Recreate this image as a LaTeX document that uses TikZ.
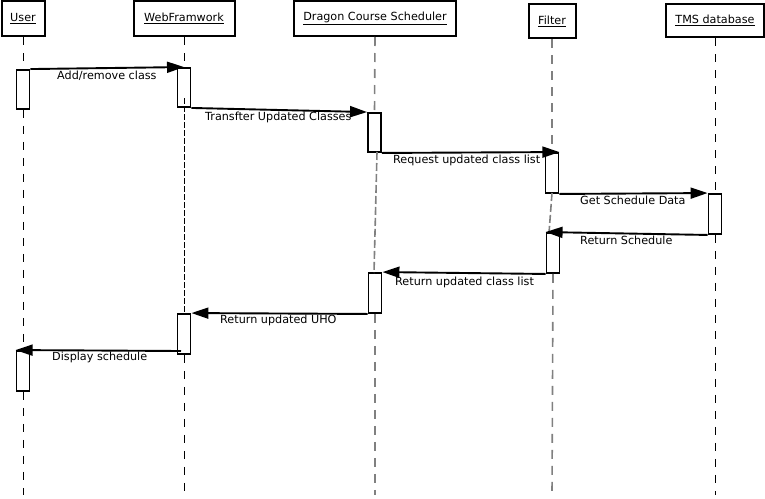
\documentclass[tikz,border=0pt]{standalone}
\usepackage{fontspec}
\setmainfont{DejaVu Sans}
\usetikzlibrary{arrows.meta}
\begin{document}
\begin{tikzpicture}[x=1pt,y=-1pt,
  every node/.style={font=\fontsize{11.2}{13}\selectfont},
  head/.style={draw,line width=2pt,inner sep=0pt,minimum height=35pt},
  act/.style={draw,fill=white,line width=1.9pt,inner sep=0pt,minimum width=13pt},
  life/.style={line width=1pt,dash pattern=on 8pt off 8pt},
  dlife/.style={line width=1pt,dash pattern=on 6pt off 2pt},
  glife/.style={line width=1.6pt,gray,dash pattern=on 9pt off 7pt},
  gdlife/.style={line width=1.6pt,gray,dash pattern=on 8pt off 3pt},
  msg/.style={line width=1.9pt,-{Triangle[length=17pt,width=11pt]}},
  lbl/.style={anchor=west,inner sep=0pt}]
\useasboundingbox (0,0) rectangle (765,498);
% headers
\node[head,minimum width=43pt] (user) at (23,18.5) {\underline{User}};
\node[head,minimum width=101pt] (web) at (184,18.5) {\underline{WebFramwork}};
\node[head,minimum width=162pt] (drag) at (375,18.5) {\underline{Dragon Course Scheduler}};
\node[head,minimum width=47pt,minimum height=34pt] (filt) at (552,21) {\underline{Filter}};
\node[head,minimum width=98pt,minimum height=33pt] (tms) at (715,20.5) {\underline{TMS database}};
% activations
\node[act,minimum height=39pt] (u1) at (23,89.5) {};
\node[act,minimum height=39pt] (w1) at (184,87.5) {};
\node[act,minimum height=39pt] (d1) at (374.5,132.5) {};
\node[act,minimum height=40pt] (f1) at (552,173) {};
\node[act,minimum height=40pt] (t1) at (715,214) {};
\node[act,minimum height=40pt] (f2) at (553,253) {};
\node[act,minimum height=40pt] (d2) at (375,293) {};
\node[act,minimum height=40pt] (w2) at (184,334) {};
\node[act,minimum height=40pt] (u2) at (23,371) {};
% lifeline points
\coordinate (userEnd) at (23,495);
\coordinate (webEnd) at (184,495);
\coordinate (dragEnd) at (375,495);
\coordinate (filtEnd) at (552,495);
\coordinate (tmsEnd) at (715,495);
\coordinate (d1b) at (377,152);
\coordinate (d2t) at (374,273);
\coordinate (f1b) at (552,193);
\coordinate (f2t) at (549,233);
\coordinate (w1b) at (184,98);
\coordinate (w2t) at (184,314);
% lifelines
\draw[life] (user.south) -- (u1.north);
\draw[life] (u1.south) -- (u2.north);
\draw[life] (u2.south) -- (userEnd);
\draw[life] (web.south) -- (w1.north);
\draw[dlife] (w1b) -- (w2t);
\draw[life] (w2.south) -- (webEnd);
\draw[glife] (drag.south) -- (d1.north);
\draw[gdlife] (d1b) -- (d2t);
\draw[glife] (d2.south) -- (dragEnd);
\draw[glife] (filt.south) -- (f1.north);
\draw[gdlife] (f1b) -- (f2t);
\draw[glife] (f2.south) -- (filtEnd);
\draw[life] (tms.south) -- (t1.north);
\draw[life] (t1.south) -- (tmsEnd);
\coordinate (dispStart) at (181,351);
% messages
\draw[msg] (u1.north east) -- (w1.north);
\draw[msg] (w1.south east) -- (d1.north west);
\draw[msg] (d1.south east) -- (f1.north east);
\draw[msg] (f1.south east) -- (t1.north west);
\draw[msg] (t1.south west) -- (f2.north west);
\draw[msg] (f2.south west) -- (d2.north east);
\draw[msg] (d2.south west) -- (w2.north east);
\draw[msg] (dispStart) -- (u2.north west);
% labels
\node[lbl] (l1) at (57,76) {Add/remove class};
\node[lbl] (l2) at (205,117) {Transfter Updated Classes};
\node[lbl] (l3) at (393,160) {Request updated class list};
\node[lbl] (l4) at (580,200) {Get Schedule Data};
\node[lbl] (l5) at (580,240) {Return Schedule};
\node[lbl] (l6) at (395,282) {Return updated class list};
\node[lbl] (l7) at (220,320) {Return updated UHO};
\node[lbl] (l8) at (52,357) {Display schedule};
\end{tikzpicture}
\end{document}
